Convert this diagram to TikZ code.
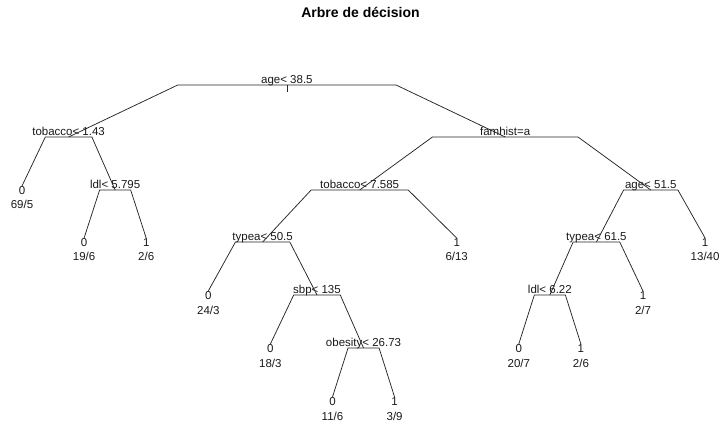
\documentclass[tikz,border=0pt]{standalone}
\usepackage{fontspec}
\setmainfont{Liberation Sans}
\usetikzlibrary{calc}
\newcommand\brn[2]{\draw[br] let \p1=(#1), \p2=(#2) in (#1) -- ({0.5*\x1+0.5*\x2},\y1) -- (#2);}
\newcommand\splitnode[4]{\coordinate (#1) at (#2,#3);
  \node[txt] (#1-l) at (#2,#3-1.5) {#4};}
\newcommand\leafnode[5]{\node[txt] (#1) at (#2,#3+4.2) {#4};
  \node[txt] (#1-n) at (#2,#3+19) {#5};}
\begin{document}
\begin{tikzpicture}[x=1pt,y=-1pt,
  br/.style={line width=0.75pt, draw=black!85},
  txt/.style={anchor=base, inner sep=0pt, font=\fontsize{11.5}{13}\selectfont, text=black!90},
  title/.style={font=\fontsize{14}{16}\selectfont\bfseries}]
\useasboundingbox (0,0) rectangle (721,425);
\node[title] (title) at (360.5,12) {Arbre de décision};
% split nodes
\splitnode{root}{286.9}{85}{age< 38.5}
\splitnode{tobA}{68.6}{137}{tobacco< 1.43}
\splitnode{famh}{505.2}{137}{famhist=a}
\splitnode{ldlA}{115.15}{190}{ldl< 5.795}
\splitnode{tobB}{359.67}{190}{tobacco< 7.585}
\splitnode{ageB}{650.76}{190}{age< 51.5}
\splitnode{typA}{262.64}{242}{typea< 50.5}
\splitnode{typB}{596.43}{242}{typea< 61.5}
\splitnode{sbp}{316.98}{295}{sbp< 135}
\splitnode{ldlB}{549.85}{295}{ldl< 6.22}
\splitnode{obes}{363.55}{348}{obesity< 26.73}
% leaves
\leafnode{L1}{22}{190}{0}{69/5}
\leafnode{L2}{84.1}{242}{0}{19/6}
\leafnode{L3}{146.2}{242}{1}{2/6}
\leafnode{L4}{208.3}{295}{0}{24/3}
\leafnode{L5}{270.4}{348}{0}{18/3}
\leafnode{L6}{332.5}{401}{0}{11/6}
\leafnode{L7}{394.6}{401}{1}{3/9}
\leafnode{L8}{456.7}{242}{1}{6/13}
\leafnode{L9}{518.8}{348}{0}{20/7}
\leafnode{L10}{580.9}{348}{1}{2/6}
\leafnode{L11}{643}{295}{1}{2/7}
\leafnode{L12}{705.1}{242}{1}{13/40}
% branches
\draw[br] (root) -- ++(0,7);
\brn{root}{tobA}
\brn{root}{famh}
\brn{tobA}{L1.north}
\brn{tobA}{ldlA}
\brn{ldlA}{L2.north}
\brn{ldlA}{L3.north}
\brn{famh}{tobB}
\brn{famh}{ageB}
\brn{tobB}{typA}
\brn{tobB}{L8.north}
\brn{typA}{L4.north}
\brn{typA}{sbp}
\brn{sbp}{L5.north}
\brn{sbp}{obes}
\brn{obes}{L6.north}
\brn{obes}{L7.north}
\brn{ageB}{typB}
\brn{ageB}{L12.north}
\brn{typB}{ldlB}
\brn{typB}{L11.north}
\brn{ldlB}{L9.north}
\brn{ldlB}{L10.north}
\end{tikzpicture}
\end{document}
